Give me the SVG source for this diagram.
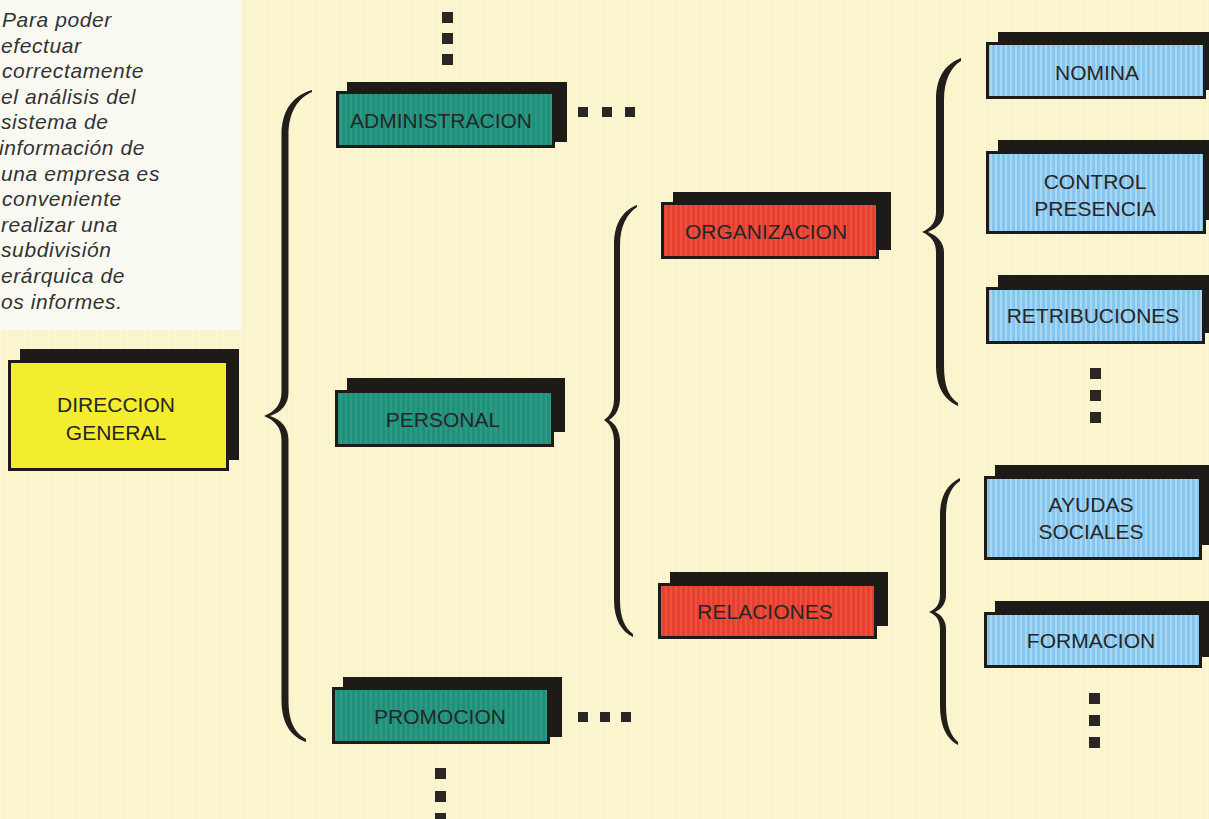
<svg xmlns="http://www.w3.org/2000/svg" width="1209" height="819" viewBox="0 0 1209 819">
<defs>
<pattern id="bgStripe" width="6" height="10" patternUnits="userSpaceOnUse">
<rect width="6" height="10" fill="#f9f4c9"/><rect width="2" height="10" fill="#fbf7d6"/>
</pattern>
<pattern id="blueStripe" width="5" height="10" patternUnits="userSpaceOnUse">
<rect width="5" height="10" fill="#86c6ee"/><rect width="2" height="10" fill="#a9d8f4"/>
</pattern>
<pattern id="tealStripe" width="5" height="10" patternUnits="userSpaceOnUse">
<rect width="5" height="10" fill="#20907a"/><rect width="2" height="10" fill="#2c9b85"/>
</pattern>
<pattern id="redStripe" width="5" height="10" patternUnits="userSpaceOnUse">
<rect width="5" height="10" fill="#e8402f"/><rect width="2" height="10" fill="#ec5040"/>
</pattern>
</defs>
<style>
.shadow{fill:#1d1a17}
.box{stroke:#1d1a17;stroke-width:3}
.teal{fill:url(#tealStripe)}
.red{fill:url(#redStripe)}
.blue{fill:url(#blueStripe)}
.yellow{fill:#f4ec2e}
.lbl{font-family:'Liberation Sans',Arial,sans-serif;font-size:21px;fill:#262626;text-anchor:middle}
.note{font-family:'Liberation Sans',Arial,sans-serif;font-size:21px;font-style:italic;fill:#333;letter-spacing:0.6px}
.dot{fill:#2a2624}
.brace{fill:#221e1b}
</style>
<rect width="1209" height="819" fill="url(#bgStripe)"/>
<rect x="0" y="0" width="242" height="330" fill="#fafaf3"/>
<g id="note">
<text class="note" x="2" y="27">Para poder</text>
<text class="note" x="1" y="52.6">efectuar</text>
<text class="note" x="2" y="78.2">correctamente</text>
<text class="note" x="1" y="103.8">el análisis del</text>
<text class="note" x="1" y="129.4">sistema de</text>
<text class="note" x="-1" y="155">información de</text>
<text class="note" x="1" y="180.6">una empresa es</text>
<text class="note" x="2" y="206.2">conveniente</text>
<text class="note" x="1" y="231.8">realizar una</text>
<text class="note" x="1" y="257.4">subdivisión</text>
<text class="note" x="1" y="283">erárquica de</text>
<text class="note" x="1" y="308.6">os informes.</text>
</g>
<g id="connectors">
<path class="brace" d="M 312,90 C 295,95 281.5,108 281.5,135 L 281.5,392 C 281.5,405 274,412 264,416 C 274,420 281.5,427 281.5,440 L 281.5,700 C 281.5,725 292,737 306,742 L 306,739 C 295,733 288.5,722 288.5,700 L 288.5,440 C 288.5,428 282,420 270,416 C 282,412 288.5,404 288.5,392 L 288.5,135 C 288.5,112 298,98 312,92 Z"/>
<path class="brace" d="M 637,205 C 624,210 614,222 614,245 L 614,398 C 614,409 610,416 604,420 C 610,424 614,431 614,442 L 614,600 C 614,620 622,632 633,637 L 633,634 C 625,628 620,618 620,600 L 620,442 C 620,432 616,424 609,420 C 616,416 620,408 620,398 L 620,245 C 620,226 627,214 637,207 Z"/>
<path class="brace" d="M 961,58 C 946,64 936,76 936,100 L 936,212 C 936,222 931,228 922,232 C 931,236 936,242 936,252 L 936,365 C 936,388 945,400 958,406 L 958,403 C 948,396 944,385 944,365 L 944,252 C 944,243 938,236 928,232 C 938,228 944,221 944,212 L 944,100 C 944,80 951,67 961,61 Z"/>
<path class="brace" d="M 960,478 C 948,484 940,495 940,515 L 940,595 C 940,604 936,609 929,612 C 936,615 940,620 940,629 L 940,705 C 940,727 947,739 958,745 L 958,742 C 950,735 946,724 946,705 L 946,629 C 946,621 942,615 935,612 C 942,609 946,603 946,595 L 946,515 C 946,498 951,487 960,481 Z"/>
</g>
<g id="ellipses">
<rect class="dot" x="442" y="12" width="11" height="11"/>
<rect class="dot" x="442" y="33" width="11" height="11"/>
<rect class="dot" x="442" y="54" width="11" height="11"/>
<rect class="dot" x="578" y="107" width="10" height="10"/>
<rect class="dot" x="602" y="107" width="10" height="10"/>
<rect class="dot" x="625" y="107" width="10" height="10"/>
<rect class="dot" x="578" y="712" width="10" height="10"/>
<rect class="dot" x="600" y="712" width="10" height="10"/>
<rect class="dot" x="621" y="712" width="10" height="10"/>
<rect class="dot" x="435" y="768" width="11" height="11"/>
<rect class="dot" x="435" y="791" width="11" height="11"/>
<rect class="dot" x="435" y="813" width="11" height="11"/>
<rect class="dot" x="1090" y="368" width="11" height="11"/>
<rect class="dot" x="1090" y="390" width="11" height="11"/>
<rect class="dot" x="1090" y="412" width="11" height="11"/>
<rect class="dot" x="1089" y="693" width="11" height="11"/>
<rect class="dot" x="1089" y="715" width="11" height="11"/>
<rect class="dot" x="1089" y="737" width="11" height="11"/>
</g>
<g id="direccion">
<rect class="shadow" x="20" y="349" width="219" height="111"/>
<rect class="box yellow" x="9.5" y="361.5" width="218" height="108"/>
<text class="lbl" x="116" y="412">DIRECCION</text>
<text class="lbl" x="116" y="440">GENERAL</text>
</g>
<g id="administracion">
<rect class="shadow" x="347" y="82" width="220" height="60"/>
<rect class="box teal" x="337.5" y="92.5" width="216" height="54"/>
<text class="lbl" x="441" y="128">ADMINISTRACION</text>
</g>
<g id="personal">
<rect class="shadow" x="347" y="378" width="218" height="54"/>
<rect class="box teal" x="336.5" y="391.5" width="216" height="54"/>
<text class="lbl" x="443" y="427">PERSONAL</text>
</g>
<g id="promocion">
<rect class="shadow" x="343" y="677" width="219" height="60"/>
<rect class="box teal" x="333.5" y="688.5" width="215" height="54"/>
<text class="lbl" x="440" y="724">PROMOCION</text>
</g>
<g id="organizacion">
<rect class="shadow" x="673" y="192" width="218" height="58"/>
<rect class="box red" x="662.5" y="203.5" width="215" height="54"/>
<text class="lbl" x="766" y="239">ORGANIZACION</text>
</g>
<g id="relaciones">
<rect class="shadow" x="670" y="572" width="218" height="54"/>
<rect class="box red" x="659.5" y="584.5" width="216" height="53"/>
<text class="lbl" x="765" y="619">RELACIONES</text>
</g>
<g id="nomina">
<rect class="shadow" x="998" y="32" width="215" height="58"/>
<rect class="box blue" x="987.5" y="43.5" width="217" height="54"/>
<text class="lbl" x="1097" y="80">NOMINA</text>
</g>
<g id="control">
<rect class="shadow" x="998" y="140" width="215" height="80"/>
<rect class="box blue" x="987.5" y="152.5" width="217" height="80"/>
<text class="lbl" x="1095" y="189">CONTROL</text>
<text class="lbl" x="1095" y="216">PRESENCIA</text>
</g>
<g id="retribuciones">
<rect class="shadow" x="998" y="275" width="215" height="58"/>
<rect class="box blue" x="987.5" y="288.5" width="216" height="54"/>
<text class="lbl" x="1093" y="323">RETRIBUCIONES</text>
</g>
<g id="ayudas">
<rect class="shadow" x="995" y="465" width="218" height="80"/>
<rect class="box blue" x="985.5" y="477.5" width="215" height="81"/>
<text class="lbl" x="1091" y="512">AYUDAS</text>
<text class="lbl" x="1091" y="539">SOCIALES</text>
</g>
<g id="formacion">
<rect class="shadow" x="995" y="601" width="218" height="56"/>
<rect class="box blue" x="985.5" y="613.5" width="215" height="53"/>
<text class="lbl" x="1091" y="648">FORMACION</text>
</g>
</svg>
